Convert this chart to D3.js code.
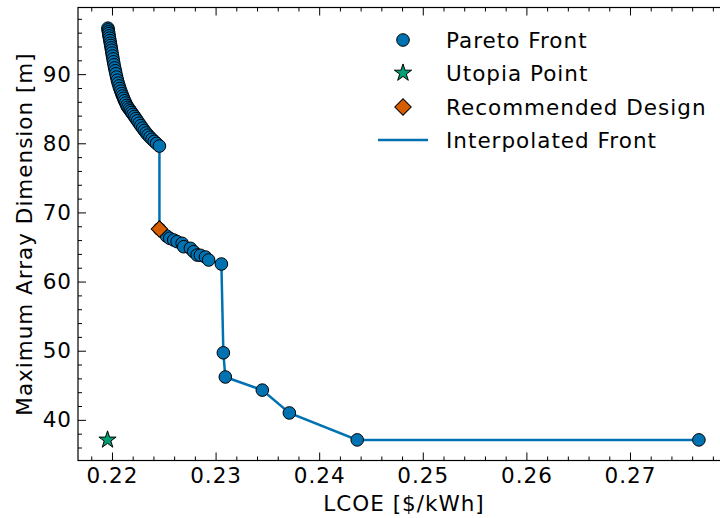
<!DOCTYPE html>
<html>
<head>
<meta charset="utf-8">
<script src="https://cdn.jsdelivr.net/npm/d3@7"></script>
<style>
  body { margin: 0; background: #fff; }
  svg { display: block; font-family: "DejaVu Sans", sans-serif; }
  svg text { letter-spacing: 1px; }
</style>
</head>
<body>
<svg id="chart" width="720" height="518"></svg>
<script>
// pareto front, sorted by LCOE
var paretoLcoe = [
  0.21961, 0.21963, 0.21966, 0.21969, 0.21972, 0.21976, 0.21980, 0.21984, 0.21988, 0.21992,
  0.21996, 0.22000, 0.22005, 0.22010, 0.22015, 0.22020, 0.22026, 0.22032, 0.22038, 0.22045,
  0.22052, 0.22060, 0.22068, 0.22076, 0.22085, 0.22094, 0.22103, 0.22112, 0.22122, 0.22132,
  0.22143, 0.22154, 0.22166, 0.22178, 0.22190, 0.22203, 0.22217, 0.22231, 0.22246, 0.22262,
  0.22278, 0.22295, 0.22312, 0.22330, 0.22348, 0.22367, 0.22387, 0.22408, 0.22430, 0.22458,
  0.22458, 0.22526, 0.22557, 0.22596, 0.22629, 0.22677, 0.22692, 0.22757, 0.22789, 0.22822,
  0.22853, 0.22902, 0.22933, 0.23056, 0.23075, 0.23094, 0.23451, 0.23712, 0.24367, 0.27665
];
var paretoDim = [
  96.65, 96.40, 96.12, 95.85, 95.52, 95.20, 94.85, 94.48, 94.15, 93.80,
  93.45, 93.05, 92.62, 92.20, 91.78, 91.35, 90.90, 90.48, 90.05, 89.58,
  89.12, 88.70, 88.30, 87.92, 87.55, 87.18, 86.84, 86.50, 86.15, 85.82,
  85.47, 85.20, 84.95, 84.70, 84.45, 84.18, 83.88, 83.57, 83.25, 82.90,
  82.55, 82.20, 81.85, 81.50, 81.18, 80.88, 80.58, 80.28, 79.98, 79.60,
  67.60, 66.59, 66.26, 66.01, 65.77, 65.53, 65.04, 64.81, 64.32, 63.84,
  63.80, 63.55, 63.12, 62.54, 49.70, 46.20, 44.30, 41.00, 37.10, 37.10
];
var utopia = [0.21957, 37.10];
var recommended = [0.22458, 67.60];

var xTicks = [0.22, 0.23, 0.24, 0.25, 0.26, 0.27];
var yTicks = [40, 50, 60, 70, 80, 90];
var legendLabels = ["Pareto Front", "Utopia Point", "Recommended Design", "Interpolated Front"];

var blue = "#0072B2", green = "#009E73", orange = "#D55E00";
var fontSize = "21.5px";

var margin = {top: 7.5, left: 78},
  width = 650,
  height = 453;

var svg = d3.select("#chart");
var g = svg.append("g").attr("transform", "translate(" + margin.left + "," + margin.top + ")");

var x = d3.scaleLinear().domain([0.21672, 0.27946]).range([0, width]);
var y = d3.scaleLinear().domain([34.12, 99.64]).range([height, 0]);

var front = paretoLcoe.map(function (d, i) { return [d, paretoDim[i]]; });

// minor tick values
var xMinor = d3.range(0.218, 0.2795, 0.002).filter(function (v) {
  return Math.abs(v * 100 - Math.round(v * 100)) > 1e-6;
});
var yMinor = d3.range(36, 100, 2).filter(function (v) { return v % 10 != 0; });

function styleAxis(sel) {
  sel.select(".domain").remove();
  sel.selectAll("line").attr("stroke", "#000").attr("stroke-width", 1);
  sel.selectAll("text").attr("fill", "#000").style("font-size", fontSize)
    .style("font-family", "DejaVu Sans, sans-serif");
}

// bottom / left with labels
g.append("g").attr("transform", "translate(0," + height + ")")
  .call(d3.axisBottom(x).tickValues(xTicks).tickSize(-8).tickPadding(7.5).tickFormat(d3.format(".2f")))
  .call(styleAxis);
g.append("g").attr("transform", "translate(0," + height + ")")
  .call(d3.axisBottom(x).tickValues(xMinor).tickSize(-4).tickFormat(""))
  .call(styleAxis);
g.append("g")
  .call(d3.axisLeft(y).tickValues(yTicks).tickSize(-8).tickPadding(6))
  .call(styleAxis);
g.append("g")
  .call(d3.axisLeft(y).tickValues(yMinor).tickSize(-4).tickFormat(""))
  .call(styleAxis);

// top / right mirrors
g.append("g")
  .call(d3.axisTop(x).tickValues(xTicks).tickSize(-8).tickFormat(""))
  .call(styleAxis);
g.append("g")
  .call(d3.axisTop(x).tickValues(xMinor).tickSize(-4).tickFormat(""))
  .call(styleAxis);
g.append("g").attr("transform", "translate(" + width + ",0)")
  .call(d3.axisRight(y).tickValues(yTicks).tickSize(-8).tickFormat(""))
  .call(styleAxis);
g.append("g").attr("transform", "translate(" + width + ",0)")
  .call(d3.axisRight(y).tickValues(yMinor).tickSize(-4).tickFormat(""))
  .call(styleAxis);

g.append("rect")
  .attr("width", width).attr("height", height)
  .attr("fill", "none").attr("stroke", "#000").attr("stroke-width", 1.2);

// interpolated front
var line = d3.line().x(function (d) { return x(d[0]); }).y(function (d) { return y(d[1]); });
g.append("path").datum(front)
  .attr("d", line)
  .attr("fill", "none").attr("stroke", blue).attr("stroke-width", 2.5);

g.selectAll(".pt").data(front).enter().append("circle")
  .attr("class", "pt")
  .attr("cx", function (d) { return x(d[0]); })
  .attr("cy", function (d) { return y(d[1]); })
  .attr("r", 6.3)
  .attr("fill", blue).attr("stroke", "#000").attr("stroke-width", 1);

var star = d3.symbol().type(d3.symbolStar).size(92);
var diamond = d3.symbol().type(d3.symbolSquare).size(135);

g.append("path").attr("d", star())
  .attr("transform", "translate(" + x(utopia[0]) + "," + y(utopia[1]) + ")")
  .attr("fill", green).attr("stroke", "#000").attr("stroke-width", 1);

g.append("path").attr("d", diamond())
  .attr("transform", "translate(" + x(recommended[0]) + "," + y(recommended[1]) + ") rotate(45)")
  .attr("fill", orange).attr("stroke", "#000").attr("stroke-width", 1);

// axis titles
svg.append("text")
  .attr("x", 404).attr("y", 511)
  .attr("text-anchor", "middle")
  .style("font-size", fontSize)
  .text("LCOE [$/kWh]");
svg.append("text")
  .attr("transform", "translate(31.5," + (margin.top + height / 2) + ") rotate(-90)")
  .attr("text-anchor", "middle")
  .style("font-size", fontSize)
  .text("Maximum Array Dimension [m]");

// legend
var leg = svg.append("g");
var rowY = [40, 73, 107, 140];
leg.append("circle").attr("cx", 403).attr("cy", rowY[0]).attr("r", 6.3)
  .attr("fill", blue).attr("stroke", "#000").attr("stroke-width", 1);
leg.append("path").attr("d", star())
  .attr("transform", "translate(403," + rowY[1] + ")")
  .attr("fill", green).attr("stroke", "#000").attr("stroke-width", 1);
leg.append("path").attr("d", diamond())
  .attr("transform", "translate(403," + rowY[2] + ") rotate(45)")
  .attr("fill", orange).attr("stroke", "#000").attr("stroke-width", 1);
leg.append("line").attr("x1", 378).attr("x2", 428).attr("y1", rowY[3]).attr("y2", rowY[3])
  .attr("stroke", blue).attr("stroke-width", 2.5);
legendLabels.forEach(function (t, i) {
  leg.append("text").attr("x", 446).attr("y", rowY[i])
    .attr("dy", "0.35em")
    .style("font-size", fontSize)
    .text(t);
});
</script>
</body>
</html>
